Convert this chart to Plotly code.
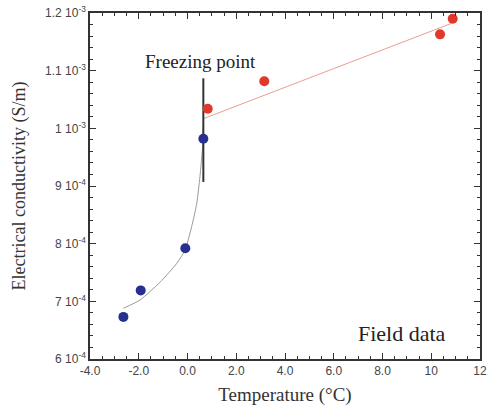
import plotly.graph_objects as go

# Frozen (below freezing point) field measurements
frozen_temp = [-2.63, -1.92, -0.09, 0.65]
frozen_ec = [6.73e-4, 7.19e-4, 7.92e-4, 9.82e-4]

# Unfrozen field measurements
thawed_temp = [0.83, 3.15, 10.36, 10.88]
thawed_ec = [1.034e-3, 1.0815e-3, 1.163e-3, 1.190e-3]

# Fitted curve through frozen data
curve_temp = [-2.63, -1.95, -1.13, -0.44, -0.10, 0.17, 0.38, 0.51, 0.62, 0.65]
curve_ec = [6.879e-4, 7.023e-4, 7.33e-4, 7.659e-4, 7.890e-4, 8.294e-4, 8.70e-4, 9.161e-4, 9.681e-4, 1.0058e-3]

# Linear fit through unfrozen data
line_temp = [0.65, 10.83]
line_ec = [1.0167e-3, 1.182e-3]

# Freezing point marker
freeze_temp = [0.65, 0.65]
freeze_ec = [9.07e-4, 1.0867e-3]

x_tickvals = [-4, -2, 0, 2, 4, 6, 8, 10, 12]
x_ticktext = ["-4.0", "-2.0", "0.0", "2.0", "4.0", "6.0", "8.0", "10", "12"]
y_tickvals = [6e-4, 7e-4, 8e-4, 9e-4, 1e-3, 1.1e-3, 1.2e-3]
y_ticktext = ["6 10<sup>-4</sup>", "7 10<sup>-4</sup>", "8 10<sup>-4</sup>", "9 10<sup>-4</sup>",
              "1 10<sup>-3</sup>", "1.1 10<sup>-3</sup>", "1.2 10<sup>-3</sup>"]

fig = go.Figure()
fig.add_trace(go.Scatter(x=curve_temp, y=curve_ec, mode="lines",
                         line=dict(color="#9a9a9a", width=1, shape="spline", smoothing=0.6), showlegend=False))
fig.add_trace(go.Scatter(x=line_temp, y=line_ec, mode="lines", line=dict(color="#e8a090", width=1), showlegend=False))
fig.add_trace(go.Scatter(x=freeze_temp, y=freeze_ec, mode="lines", line=dict(color="#333333", width=2), showlegend=False))
fig.add_trace(go.Scatter(x=frozen_temp, y=frozen_ec, mode="markers", marker=dict(color="#27308f", size=10), showlegend=False))
fig.add_trace(go.Scatter(x=thawed_temp, y=thawed_ec, mode="markers", marker=dict(color="#e0382a", size=10), showlegend=False))

axis_common = dict(showline=True, linecolor="#333333", linewidth=1.5, mirror="ticks", ticks="inside",
                   ticklen=6, tickwidth=1, tickcolor="#333333", showgrid=False, zeroline=False,
                   automargin=False, ticklabeloverflow="allow",
                   tickfont=dict(family="Liberation Sans, Arial", size=12, color="#444444"))

fig.update_xaxes(range=[-4, 12], tickvals=x_tickvals, ticktext=x_ticktext,
                 minor=dict(dtick=0.5, ticks="inside", ticklen=3, tickcolor="#333333", showgrid=False),
                 title=dict(text="Temperature (°C)", standoff=11,
                            font=dict(family="Liberation Serif, Times New Roman", size=19, color="#333333")),
                 **axis_common)
fig.update_yaxes(range=[6e-4, 1.2e-3], tickvals=y_tickvals, ticktext=y_ticktext,
                 minor=dict(dtick=2e-5, tick0=6e-4, ticks="inside", ticklen=3, tickcolor="#333333", showgrid=False),
                 title=dict(text="Electrical conductivity (S/m)", standoff=15,
                            font=dict(family="Liberation Serif, Times New Roman", size=18, color="#333333")),
                 **axis_common)

fig.add_annotation(x=(200 - 90) / 390, y=(359 - 61) / 346, xref="paper", yref="paper", text="Freezing point",
                   xanchor="center", yanchor="middle",
                   showarrow=False, font=dict(family="Liberation Serif, Times New Roman", size=19, color="#222222"))
fig.add_annotation(x=(402 - 90) / 390, y=(359 - 333) / 346, xref="paper", yref="paper", text="Field data",
                   xanchor="center", yanchor="middle",
                   showarrow=False, font=dict(family="Liberation Serif, Times New Roman", size=22, color="#222222"))

fig.update_layout(width=491, height=412, margin=dict(l=90, r=11, t=13, b=53),
                  plot_bgcolor="white", paper_bgcolor="white")
fig.write_html("out.html", config={"displayModeBar": False},
               post_script="document.body.style.margin='0';document.body.style.overflow='hidden';")
